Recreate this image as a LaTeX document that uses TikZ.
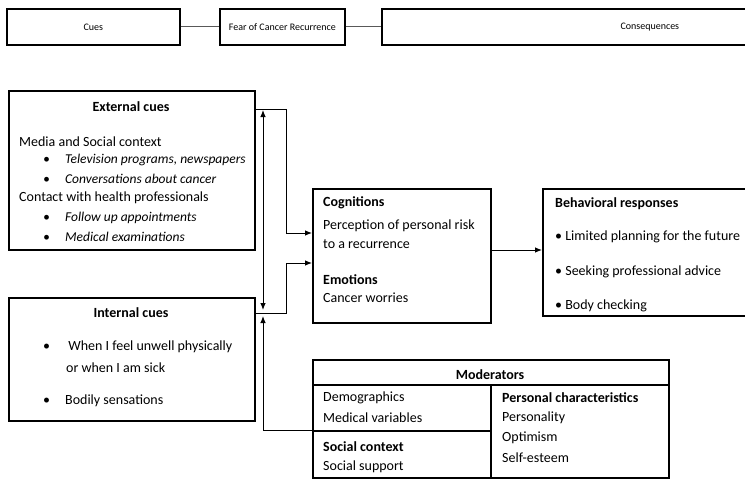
\documentclass[tikz,border=0pt]{standalone}
\usepackage{fontspec}
\setmainfont{Carlito}
\usetikzlibrary{arrows.meta}
\tikzset{
  box/.style={draw, line width=1.7pt, anchor=north west, inner sep=0pt},
  topbox/.style={box, minimum height=36pt, font=\fontsize{10}{12}\selectfont},
  txt/.style={anchor=west, inner sep=0pt, font=\fontsize{14}{16}\selectfont},
  head/.style={txt, font=\fontsize{14}{16}\selectfont\bfseries},
  item/.style={txt, font=\fontsize{13.5}{16}\selectfont\itshape},
  conn/.style={line width=0.9pt},
}
\newcommand{\bul}{\makebox[22pt][l]{\textbullet}}
\begin{document}
\begin{tikzpicture}[x=1pt,y=-1pt,>={Latex[length=7pt,width=5.5pt]}]
  \useasboundingbox (0,0) rectangle (745,480);
  \node[topbox, minimum width=173pt] (cues) at (6,8) {Cues};
  \node[topbox, minimum width=125pt] (fear) at (219,8) {Fear of Cancer Recurrence};
  \node[topbox, minimum width=536pt] (cons) at (381,8) {Consequences};
  \node[box, minimum width=246pt, minimum height=159pt] (ext) at (8,90) {};
  \node[box, minimum width=246pt, minimum height=123pt] (int) at (8,297) {};
  \node[box, minimum width=178pt, minimum height=134pt] (cog) at (312,188) {};
  \node[box, minimum width=218pt, minimum height=127pt] (beh) at (542,188) {};
  \node[box, minimum width=356pt, minimum height=25pt] (modhead) at (312,359) {};
  \node[box, minimum width=178pt, minimum height=46pt] (moddemo) at (312,384) {};
  \node[box, minimum width=178pt, minimum height=47pt] (modsoc) at (312,430) {};
  \node[box, minimum width=178pt, minimum height=93pt] (modpers) at (490,384) {};

  \node[head, anchor=center] (exth) at (131,107) {External cues};
  \node[txt] (ext1) at (19,142) {Media and Social context};
  \node[item] (ext2) at (43,160) {\bul Television programs, newspapers};
  \node[item] (ext3) at (43,179) {\bul Conversations about cancer};
  \node[txt] (ext4) at (19,198) {Contact with health professionals};
  \node[item] (ext5) at (43,218) {\bul Follow up appointments};
  \node[item] (ext6) at (43,237) {\bul Medical examinations};

  \node[head, anchor=center] (inth) at (131,313) {Internal cues};
  \node[txt] (int1) at (43,347) {\bul\ When I feel unwell physically};
  \node[txt] (int2) at (66,368) {or when I am sick};
  \node[txt] (int3) at (43,401) {\bul Bodily sensations};

  \node[head] (cog1) at (323,203) {Cognitions};
  \node[txt] (cog2) at (323,226) {Perception of personal risk};
  \node[txt] (cog3) at (323,244) {to a recurrence};
  \node[head] (cog4) at (323,280) {Emotions};
  \node[txt] (cog5) at (323,298) {Cancer worries};

  \node[head] (beh1) at (555,204) {Behavioral responses};
  \node[txt] (beh2) at (555,237) {\textbullet\ Limited planning for the future};
  \node[txt] (beh3) at (555,272) {\textbullet\ Seeking professional advice};
  \node[txt] (beh4) at (555,306) {\textbullet\ Body checking};

  \node[head, anchor=center] (modt) at (490,375) {Moderators};
  \node[txt] (mod1) at (323,398) {Demographics};
  \node[txt] (mod2) at (323,418) {Medical variables};
  \node[head] (mod3) at (323,447) {Social context};
  \node[txt] (mod4) at (323,467) {Social support};
  \node[head] (mod5) at (502,398) {Personal characteristics};
  \node[txt] (mod6) at (502,418) {Personality};
  \node[txt] (mod7) at (502,438) {Optimism};
  \node[txt] (mod8) at (502,458) {Self-esteem};

  \coordinate (uptip) at (263,110);
  \coordinate (downtip) at (263,310);
  \coordinate (modtip) at (263,316);
  \begin{scope}[conn]
    \draw[gray!70!black] (cues) to (fear);
    \draw[gray!70!black] (fear) to (cons);
    \draw[->] (ext.east |- 0,109) -- (286,109) |- (cog.west |- 0,233);
    \draw[->] (int.east |- 0,313) -- (286,313) |- (cog.west |- 0,263);
    \draw[<->] (uptip) to (downtip);
    \draw[->] (modsoc.north west) -| (modtip);
    \draw[->] (cog.east |- 0,250) to (beh.west |- 0,250);
  \end{scope}
\end{tikzpicture}
\end{document}
